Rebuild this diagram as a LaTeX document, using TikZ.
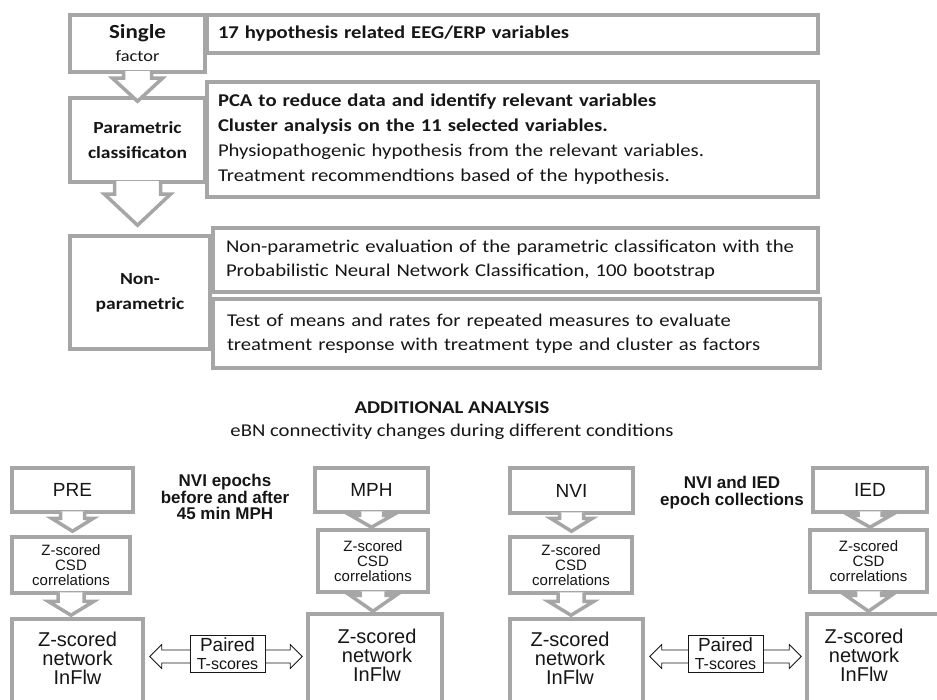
\documentclass[tikz,border=0pt]{standalone}
\usepackage{fontspec}
\newfontfamily\calfont[FakeStretch=1.15]{Carlito}
\newfontfamily\arialfont{Liberation Sans}
\definecolor{FrameColor}{RGB}{166,166,166}
\definecolor{InkColor}{RGB}{22,22,22}
\usetikzlibrary{calc, positioning}
\tikzstyle{stagebox} = [draw=FrameColor, line width=3.5pt, fill=white, inner sep=0pt, align=center, text=InkColor]
\tikzstyle{taskbox} = [draw=FrameColor, line width=3.5pt, fill=white, inner xsep=11pt, inner ysep=0pt, align=left, text=InkColor, font=\calfont\fontsize{18}{25}\selectfont]
\tikzstyle{condbox} = [draw=FrameColor, line width=3.5pt, fill=white, inner sep=0pt, align=center, text=InkColor, font=\arialfont\fontsize{19}{21}\selectfont]
\tikzstyle{csdbox} = [condbox, font=\arialfont\fontsize{15}{15}\selectfont]
\tikzstyle{inflwtext} = [align=center, text=InkColor, font=\arialfont\fontsize{20}{19}\selectfont]
\tikzstyle{notetext} = [align=center, text=InkColor, font=\arialfont\bfseries\fontsize{17}{16.5}\selectfont]
\tikzstyle{hollowarrow} = [draw=FrameColor, line width=3.5pt, fill=white]
\tikzstyle{pairshape} = [draw=InkColor, line width=0.8pt, fill=white]
\tikzstyle{pairbox} = [draw=InkColor, line width=0.8pt, fill=white, inner sep=0pt, minimum width=75pt, minimum height=37pt, align=center, text=InkColor, font=\arialfont\fontsize{19}{18}\selectfont]
% block arrow from #1 to #2: shaft half, head half, head length, tip offset
\newcommand{\blockarrow}[6]{%
  \path[hollowarrow] let \p1=(#1.south), \p2=(#2.north) in
    (\x1-#3pt,\y1+2.5pt) -- (\x1-#3pt,\y2+#6pt+#5pt) -- (\x1-#4pt,\y2+#6pt+#5pt)
    -- (\x1,\y2+#6pt) -- (\x1+#4pt,\y2+#6pt+#5pt) -- (\x1+#3pt,\y2+#6pt+#5pt)
    -- (\x1+#3pt,\y1+2.5pt);}
% double arrow between two boxes at the height of #3
\newcommand{\pairarrow}[3]{%
  \path[pairshape] let \p1=(#1.east |- #3), \p2=(#2.west |- #3) in
    (\x1+5pt,\y1) -- (\x1+17pt,\y1+12pt) -- (\x1+17pt,\y1+6.5pt) -- (\x2-16pt,\y1+6.5pt)
    -- (\x2-16pt,\y1+12pt) -- (\x2-4pt,\y1) -- (\x2-16pt,\y1-12pt) -- (\x2-16pt,\y1-6.5pt)
    -- (\x1+17pt,\y1-6.5pt) -- (\x1+17pt,\y1-12pt) -- cycle;}

\begin{document}
\begin{tikzpicture}[x=1pt, y=-1pt]
\useasboundingbox (0,0) rectangle (937,700);
\clip (0,0) rectangle (937,700);

% Stage column
\node[stagebox, minimum width=135pt, minimum height=57pt, font=\calfont\bfseries\fontsize{16}{23}\selectfont] (single) at (137.5,43.5) {{\fontsize{20}{22}\selectfont Single}\\{\fontsize{16}{18}\selectfont\mdseries factor}};
\node[stagebox, minimum width=135pt, minimum height=84pt, font=\calfont\bfseries\fontsize{17}{25}\selectfont] (param) at (137.5,140) {Parametric\\classificaton};
\node[stagebox, minimum width=140pt, minimum height=113pt, font=\calfont\bfseries\fontsize{17}{25}\selectfont] (nonpar) at (140,292.5) {Non-\\parametric};

% Task column
\node[taskbox, text width=589pt, minimum height=38pt, font=\calfont\bfseries\fontsize{18}{25}\selectfont] (hypo) at (512.5,34) {17 hypothesis related EEG/ERP variables};
\node[taskbox, text width=589pt, minimum height=115pt] (pca) at (512.5,139.5) {\textbf{PCA to reduce data and identify relevant variables}\\\textbf{Cluster analysis on the 11 selected variables.}\\Physiopathogenic hypothesis from the relevant variables.\\Treatment recommendtions based of the hypothesis.};
\node[taskbox, inner xsep=13pt, text width=579pt, minimum height=64pt, font=\calfont\fontsize{18}{24}\selectfont] (npeval) at (515.5,260) {Non-parametric evaluation of the parametric classificaton with the\\Probabilistic Neural Network Classification, 100 bootstrap};
\node[taskbox, inner xsep=14pt, text width=579pt, minimum height=69pt, font=\calfont\fontsize{18}{24}\selectfont] (tests) at (516.5,333.5) {Test of means and rates for repeated measures to evaluate\\treatment response with treatment type and cluster as factors};

\blockarrow{single}{param}{14}{25}{23}{-5}
\blockarrow{param}{nonpar}{23}{33}{31}{9}

% Additional analysis
\node[text=InkColor, font=\calfont\bfseries\fontsize{18}{20}\selectfont] (addtitle) at (452,408) {ADDITIONAL ANALYSIS};
\node[text=InkColor, font=\calfont\fontsize{18}{20}\selectfont] (addsub) at (452,432) {eBN connectivity changes during different conditions};

% PRE / MPH
\node[condbox, minimum width=121pt, minimum height=44pt] (pre) at (72.5,490) {PRE};
\node[csdbox, minimum width=118pt, minimum height=56pt] (precsd) at (71,565) {Z-scored\\CSD\\correlations};
\node[condbox, minimum width=131pt, minimum height=106pt] (preinf) at (77.5,672) {};
\node[inflwtext] (preinftext) at (77.5,658) {Z-scored\\network\\InFlw};
\node[condbox, minimum width=113pt, minimum height=44pt] (mph) at (371.5,490) {MPH};
\node[csdbox, minimum width=110pt, minimum height=62pt] (mphcsd) at (373,561) {Z-scored\\CSD\\correlations};
\node[condbox, minimum width=134pt, minimum height=111pt] (mphinf) at (375,669.5) {};
\node[inflwtext] (mphinftext) at (377,655) {Z-scored\\network\\InFlw};
\node[notetext] (mphnote) at (225,497) {NVI epochs\\before and after\\45 min MPH};
\blockarrow{pre}{precsd}{12}{21}{13}{4}
\blockarrow{precsd}{preinf}{13}{23}{14}{2}
\blockarrow{mph}{mphcsd}{12}{21}{12}{1}
\blockarrow{mphcsd}{mphinf}{13}{23}{16}{1}
\coordinate (pairlineA) at (227.5,656.5);
\pairarrow{preinf}{mphinf}{pairlineA}
\node[pairbox] (pairA) at (227.5,653.5) {Paired\\{\fontsize{16}{16}\selectfont T-scores}};

% NVI / IED
\node[condbox, minimum width=123pt, minimum height=45pt] (nvi) at (571.5,490.5) {NVI};
\node[csdbox, minimum width=122pt, minimum height=56pt] (nvicsd) at (571,565) {Z-scored\\CSD\\correlations};
\node[condbox, minimum width=133pt, minimum height=106pt] (nviinf) at (576.5,672) {};
\node[inflwtext] (nviinftext) at (570,658) {Z-scored\\network\\InFlw};
\node[condbox, minimum width=114pt, minimum height=44pt] (ied) at (870,490) {IED};
\node[csdbox, minimum width=117pt, minimum height=62pt] (iedcsd) at (868.5,561) {Z-scored\\CSD\\correlations};
\node[condbox, minimum width=135pt, minimum height=111pt] (iedinf) at (874.5,669.5) {};
\node[inflwtext] (iedinftext) at (864,655) {Z-scored\\network\\InFlw};
\node[notetext] (iednote) at (732,492.5) {NVI and IED\\epoch collections};
\blockarrow{nvi}{nvicsd}{12}{21}{13}{4}
\blockarrow{nvicsd}{nviinf}{13}{23}{14}{2}
\blockarrow{ied}{iedcsd}{12}{21}{12}{1}
\blockarrow{iedcsd}{iedinf}{13}{23}{16}{1}
\coordinate (pairlineB) at (725.5,656.5);
\pairarrow{nviinf}{iedinf}{pairlineB}
\node[pairbox] (pairB) at (725.5,653.5) {Paired\\{\fontsize{16}{16}\selectfont T-scores}};
\end{tikzpicture}
\end{document}
